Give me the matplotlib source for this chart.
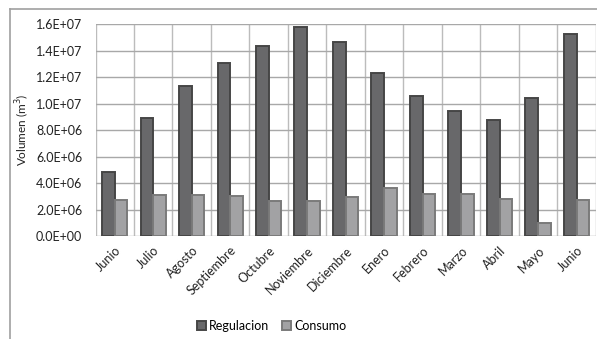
import numpy as np
import matplotlib
matplotlib.use('Agg')
import matplotlib.pyplot as plt
from matplotlib.ticker import FuncFormatter, MultipleLocator, FixedLocator

plt.rcParams['font.family'] = ['Lato', 'DejaVu Sans']

meses = ['Junio', 'Julio', 'Agosto', 'Septiembre', 'Octubre', 'Noviembre',
         'Diciembre', 'Enero', 'Febrero', 'Marzo', 'Abril', 'Mayo', 'Junio']
regulacion = [4.81e6, 8.93e6, 11.37e6, 13.10e6, 14.34e6, 15.80e6, 14.67e6,
              12.33e6, 10.59e6, 9.46e6, 8.80e6, 10.42e6, 15.25e6]
consumo = [2.69e6, 3.09e6, 3.09e6, 3.04e6, 2.66e6, 2.62e6, 2.97e6,
           3.62e6, 3.17e6, 3.17e6, 2.79e6, 0.98e6, 2.72e6]

fig = plt.figure(figsize=(5.97, 3.39), dpi=100)
ax = fig.add_axes([0.160, 0.304, 0.838, 0.624])

x = np.arange(len(meses))
w = 0.33
ax.bar(x - w / 2, regulacion, w, color='#68686a', edgecolor='#464646',
       linewidth=1.4, label='Regulacion', zorder=3)
ax.bar(x + w / 2, consumo, w, color='#a2a2a4', edgecolor='#7a7a7a',
       linewidth=1.4, label='Consumo', zorder=3)

ax.set_xlim(-0.5, len(meses) - 0.5)
ax.set_ylim(0, 1.6e7)
ax.yaxis.set_major_locator(MultipleLocator(2e6))
ax.yaxis.set_major_formatter(FuncFormatter(lambda v, p: '%.1E' % v))
ax.set_xticks(x)
ax.set_xticklabels(meses, rotation=45, ha='right', rotation_mode='anchor')
ax.xaxis.set_minor_locator(FixedLocator(np.arange(-0.5, len(meses), 1.0)))

ax.grid(axis='y', which='major', color='#a8a8a8', linewidth=1.0, zorder=0)
ax.grid(axis='x', which='minor', color='#bcbcbc', linewidth=1.0, zorder=0)
ax.tick_params(axis='both', which='both', length=0, labelsize=9, colors='#222222')
ax.tick_params(axis='x', pad=6)
ax.tick_params(axis='y', pad=9.5)
for s in ax.spines.values():
    s.set_visible(False)

ax.set_ylabel('Volumen (m$^3$)', fontsize=8.5, color='#222222', labelpad=3)

fig.legend(loc='lower center', bbox_to_anchor=(0.455, -0.012), ncol=2, frameon=False,
           fontsize=9, handlelength=0.75, handleheight=0.75, handletextpad=0.25,
           columnspacing=1.0)

# marco exterior del grafico
fig.add_artist(plt.Line2D([10 / 597, 1], [1 - 9 / 339, 1 - 9 / 339],
                          transform=fig.transFigure, color='#a0a0a0', lw=1.2))
fig.add_artist(plt.Line2D([10 / 597, 10 / 597], [0, 1 - 9 / 339],
                          transform=fig.transFigure, color='#a0a0a0', lw=1.2))

fig.savefig('out.png', dpi=100)
